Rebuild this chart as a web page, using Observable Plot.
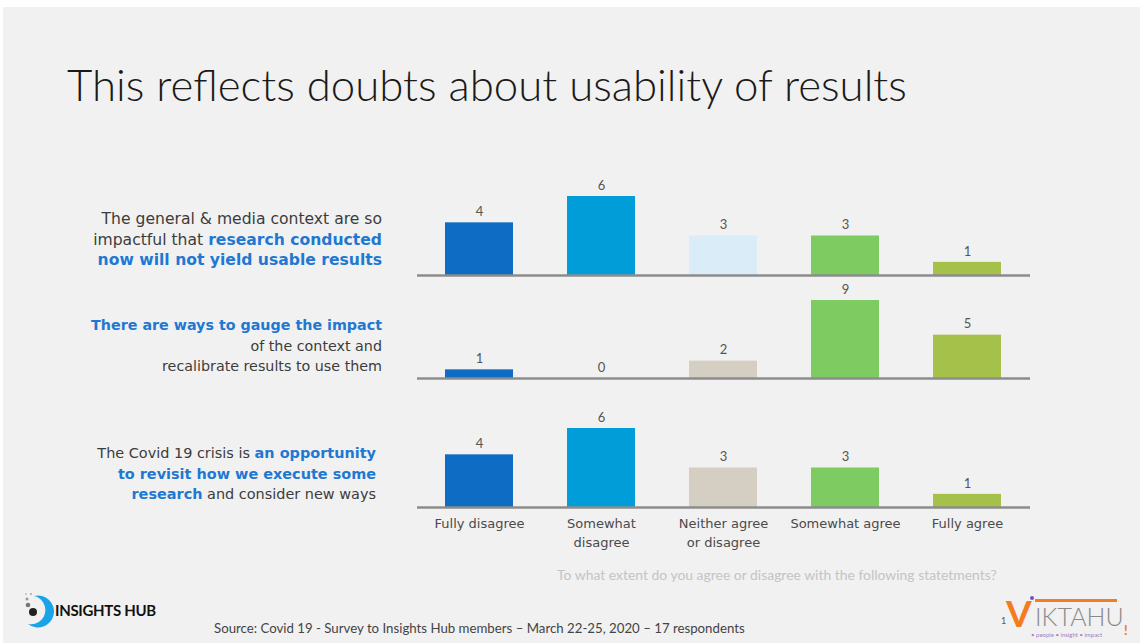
<!DOCTYPE html>
<html>
<head>
<meta charset="utf-8">
<script src="https://cdn.jsdelivr.net/npm/d3@7"></script>
<script src="https://cdn.jsdelivr.net/npm/@observablehq/plot@0.6"></script>
<style>
  html, body { margin: 0; padding: 0; background: #ffffff; }
  body { width: 1140px; height: 643px; position: relative; overflow: hidden; font-family: Lato, "Open Sans", sans-serif; }
  #slide { position: absolute; left: 3px; top: 7px; width: 1137px; height: 636px; background: #f1f1f1; }
  .abs { position: absolute; white-space: nowrap; }
  #title { left: 67px; top: 58px; font-size: 40px; color: #1a1a1a; font-weight: 300; }
  .stmt { position: absolute; text-align: right; font-family: "DejaVu Sans", sans-serif; font-size: 14px; line-height: 20.5px; color: #3c3c3c; white-space: nowrap; }
  .stmt b { color: #1f78d1; font-weight: 700; }
  #question { left: 557px; top: 566px; font-size: 11.5px; color: #c4c4c4; }
  #source { left: 214px; top: 620px; font-size: 12.5px; color: #444; }
  #ihub { left: 55px; top: 601px; font-size: 15px; font-weight: 700; color: #111; letter-spacing: -0.3px; }
  .panel { position: absolute; left: 0; }
</style>
</head>
<body>
<div id="slide"></div>
<div id="title" class="abs">This reflects doubts about usability of results</div>

<div id="s1" class="stmt" style="right:758px; top:209px;">The general &amp; media context are so<br>impactful that <b>research conducted</b><br><b>now will not yield usable results</b></div>
<div id="s2" class="stmt" style="right:758px; top:315px;"><b>There are ways to gauge the impact</b><br>of the context and<br>recalibrate results to use them</div>
<div id="s3" class="stmt" style="right:764px; top:443px;">The Covid 19 crisis is <b>an opportunity</b><br><b>to revisit how we execute some</b><br><b>research</b> and consider new ways</div>

<div id="p1" class="panel" style="top:176px;"></div>
<div id="p2" class="panel" style="top:280px;"></div>
<div id="p3" class="panel" style="top:408px;"></div>

<div id="question" class="abs">To what extent do you agree or disagree with the following statetments?</div>
<div id="source" class="abs">Source: Covid 19 - Survey to Insights Hub members – March 22-25, 2020 – 17 respondents</div>

<svg class="abs" style="left:20px; top:590px;" width="40" height="44" viewBox="0 0 40 44">
  <path d="M14 6 A16 16 0 1 1 8 34 A13 13 0 1 0 14 6 Z" fill="#1aa3e6"/>
  <circle cx="13" cy="22" r="4" fill="#222"/>
  <circle cx="8" cy="15" r="2.3" fill="#777"/>
  <circle cx="7" cy="9" r="1.5" fill="#999"/>
  <circle cx="11" cy="4" r="1.1" fill="#aaa"/>
  <circle cx="6" cy="4" r="0.9" fill="#bbb"/>
</svg>
<div id="ihub" class="abs">INSIGHTS HUB</div>

<div class="abs" style="left:1001px; top:616px; font-size:9px; line-height:10px; color:#555;">1</div>
<div class="abs" style="left:1006px; top:594px; font-size:37px; font-weight:700; color:#f47b20; line-height:38px;">V</div>
<div class="abs" style="left:1035px; top:599px; width:82px; height:3px; background:#f47b20;"></div>
<div class="abs" style="left:1030px; top:596px; width:4px; height:4px; border-radius:2px; background:#7b4fb0;"></div>
<div class="abs" style="left:1035px; top:604px; font-size:25px; font-weight:300; color:#8a8a8a; line-height:25px;">IKTAHU</div>
<div class="abs" style="left:1031px; top:631px; font-size:6px; line-height:7px; color:#9b7fc4;">• people • insight • impact</div>
<div class="abs" style="left:1124px; top:623px; font-size:13px; line-height:14px; font-weight:700; color:#f47b20;">!</div>

<script>
const categories = ["Fully disagree", "Somewhat disagree", "Neither agree or disagree", "Somewhat agree", "Fully agree"];
const tickLabels = ["Fully disagree", "Somewhat\ndisagree", "Neither agree\nor disagree", "Somewhat agree", "Fully agree"];
const row1 = [4, 6, 3, 3, 1];
const row2 = [1, 0, 2, 9, 5];
const row3 = [4, 6, 3, 3, 1];
const colors1 = ["#0f6cc4", "#009dd9", "#d9ecf7", "#7ecb62", "#a5c14a"];
const colors23 = ["#0f6cc4", "#009dd9", "#d5cec3", "#7ecb62", "#a5c14a"];

function panel(values, colors, showLabels, height, marginBottom) {
  const data = categories.map((c, i) => ({cat: c, value: values[i], color: colors[i], label: tickLabels[i]}));
  const marks = [
    Plot.barY(data, {x: "cat", y: "value", fill: "color"}),
    Plot.ruleY([0], {stroke: "#8c8c8c", strokeWidth: 2.5}),
    Plot.text(data, {x: "cat", y: "value", text: d => String(d.value), dy: -11, fill: "#555", fontSize: 13})
  ];
  if (showLabels) {
    marks.push(Plot.text(data, {x: "cat", text: "label", frameAnchor: "bottom", dy: 7, lineAnchor: "top", lineHeight: 1.45, fill: "#4a4a4a", fontSize: 13, fontFamily: "DejaVu Sans, sans-serif"}));
  }
  return Plot.plot({
    width: 1140,
    height: height,
    marginLeft: 417,
    marginRight: 110,
    marginTop: 20,
    marginBottom: marginBottom,
    style: {background: "transparent", fontFamily: "Lato, 'Open Sans', sans-serif"},
    x: {domain: categories, paddingInner: 0.44, paddingOuter: 0.22, axis: null},
    y: {domain: [0, d3.max(values)], axis: null},
    color: {type: "identity"},
    marks
  });
}

document.getElementById("p1").append(panel(row1, colors1, false, 103, 4));
document.getElementById("p2").append(panel(row2, colors23, false, 102, 4));
document.getElementById("p3").append(panel(row3, colors23, true, 144, 45));

function fitWidth(id, target) {
  const el = document.getElementById(id);
  const w = el.getBoundingClientRect().width;
  const fs = parseFloat(getComputedStyle(el).fontSize);
  el.style.fontSize = (fs * target / w).toFixed(2) + "px";
}
fitWidth("title", 840);
fitWidth("question", 440);
fitWidth("source", 531);
fitWidth("s1", 289);
fitWidth("s2", 291);
fitWidth("s3", 279);
</script>
</body>
</html>
